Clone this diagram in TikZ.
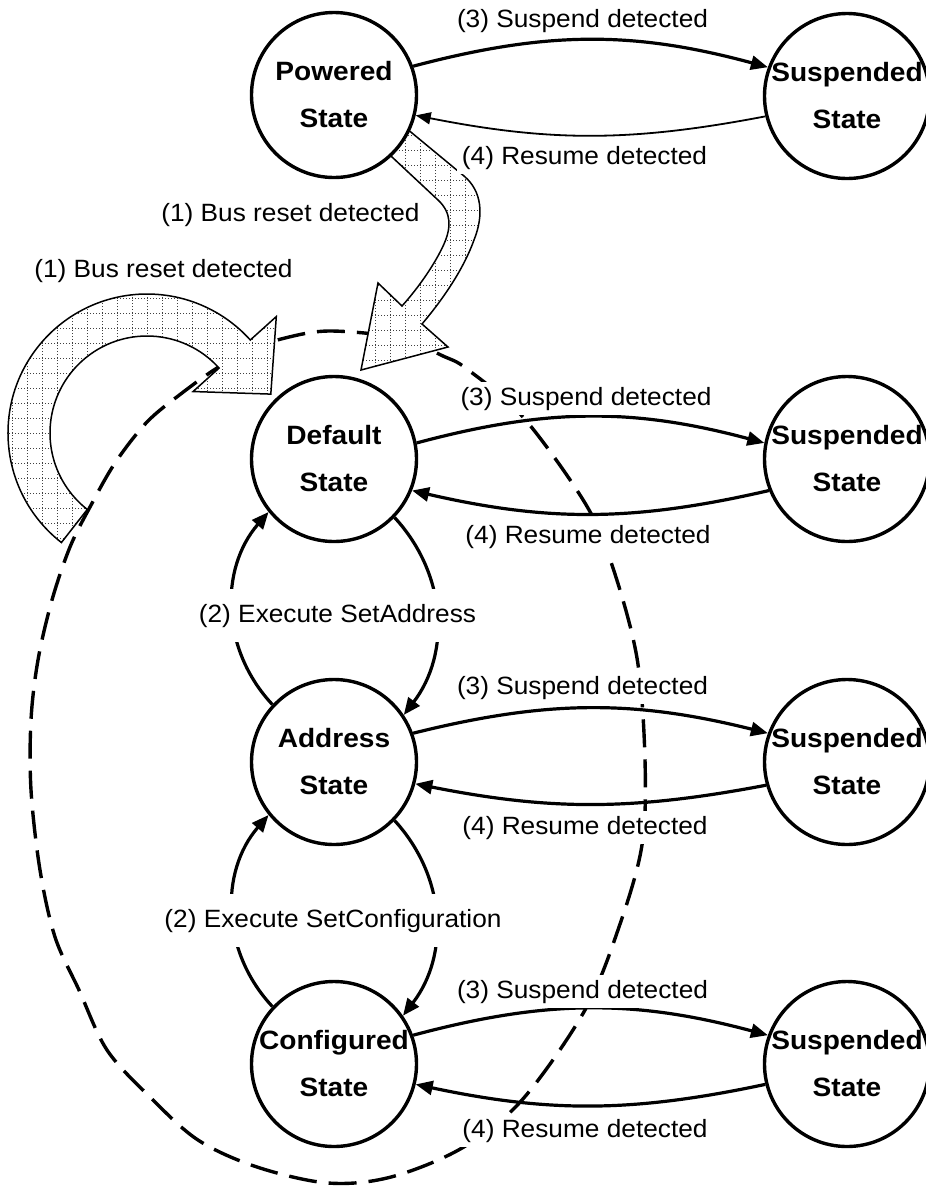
\documentclass[tikz,border=0pt]{standalone}
\usepackage{fontspec}
\setmainfont{Liberation Sans}
\newfontfamily\lblfont{Liberation Sans}[FakeStretch=1.05]
\newfontfamily\stfont{Liberation Sans}[FakeStretch=1.06]
\usetikzlibrary{arrows.meta}

% outline of the curved block arrow on the left (relative to its arc centre)
\newcommand\leftblock{(232:139) arc[start angle=232, end angle=42, radius=139]
  -- (42:174) -- (123.8,38.9) -- (42:62) -- (42:97)
  arc[start angle=42, end angle=232, radius=97] -- cycle}
% outline of the block arrow from the powered state down to the default state
\newcommand\topblock{(369,-138) -- (389,-114) -- (412,-133) -- (464,-176)
  .. controls (482,-191) and (484,-215) .. (474,-240)
  .. controls (464,-268) and (444,-298) .. (422,-324)
  -- (448,-347) -- (361,-370) -- (378,-283) -- (402,-306)
  .. controls (420,-286) and (436,-262) .. (444,-244)
  .. controls (451,-228) and (452,-213) .. (438,-200)
  -- (392,-157) -- cycle}

\tikzset{
  state/.style={circle, draw, line width=3.4pt, fill=white, minimum size=165pt,
    inner sep=0pt, align=center,
    font=\stfont\bfseries\fontsize{26.5}{47}\selectfont},
  lbl/.style={fill=white, inner sep=5pt, anchor=base,
    font=\lblfont\fontsize{25}{30}\selectfont},
  midlbl/.style={lbl, inner xsep=8pt, inner ysep=15pt},
  tr/.style={line width=3.2pt, -{Triangle[length=17pt,width=14pt]}},
  trthin/.style={line width=1.8pt, -{Triangle[length=15pt,width=12pt]}},
  resetpath/.style={line width=3.4pt, dash pattern=on 28pt off 12pt},
  hatchline/.style={line width=1pt, dash pattern=on 1pt off 2pt, black!75},
  blockedge/.style={line width=1.5pt}
}

\begin{document}
\begin{tikzpicture}[x=1pt, y=1pt]
  \useasboundingbox (0,0) rectangle (926,-1187);
  \fill[white] (0,0) rectangle (926,-1187);

  % dashed boundary around the default, address and configured states
  \draw[resetpath] plot[smooth cycle, tension=0.55] coordinates {
    (330,-331) (400,-338) (443,-356) (467,-369) (523,-417) (585,-503)
    (612,-565) (637,-658) (645,-760) (642,-845) (619,-927) (585,-1010)
    (522,-1100) (462,-1148) (391,-1177) (328,-1183) (257,-1167) (198,-1140)
    (150,-1097) (107,-1050) (79,-990) (55,-937) (40,-870) (31,-790)
    (31,-720) (38,-660) (52,-600) (70,-547) (90,-507) (115,-463)
    (147,-422) (182,-393) (217,-368) (250,-350) (285,-338)};

  % curved block arrow on the left
  \begin{scope}[shift={(147,-433)}]
    \fill[white] \leftblock;
    \begin{scope}
      \clip \leftblock;
      \draw[hatchline, step=15] (-150,-150) grid (180,150);
    \end{scope}
    \draw[blockedge] \leftblock;
  \end{scope}

  % block arrow from the powered state
  \fill[white] \topblock;
  \begin{scope}
    \clip \topblock;
    \draw[hatchline, step=15] (345,-390) grid (495,-105);
  \end{scope}
  \draw[blockedge] \topblock;

  % states
  \node[state] (P)  at (334,-95)   {Powered\\State};
  \node[state] (D)  at (334,-459)  {Default\\State};
  \node[state] (A)  at (334,-762)  {Address\\State};
  \node[state] (C)  at (334,-1064) {Configured\\State};
  \node[state] (SP) at (847,-96)   {Suspended\\State};
  \node[state] (SD) at (847,-459)  {Suspended\\State};
  \node[state] (SA) at (847,-762)  {Suspended\\State};
  \node[state] (SC) at (847,-1064) {Suspended\\State};

  % suspend / resume transitions
  \draw[tr]     (P.20)   to[bend left=15] (SP.160);
  \draw[trthin] (SP.194) to[bend left=11] (P.-14);
  \draw[tr]     (D.11)   to[bend left=15] (SD.169);
  \draw[tr]     (SD.202) to[bend left=13] (D.-22);
  \draw[tr]     (A.20)   to[bend left=14] (SA.160);
  \draw[tr]     (SA.196) to[bend left=11] (A.-15);
  \draw[tr]     (C.20)   to[bend left=15] (SC.160);
  \draw[tr]     (SC.194) to[bend left=12] (C.-14);

  % SetAddress / SetConfiguration transitions
  \draw[tr] (D.-44)  to[bend left=40] (A.34);
  \draw[tr] (A.137)  to[bend left=42] (D.219);
  \draw[tr] (A.-44)  to[bend left=40] (C.35);
  \draw[tr] (C.137)  to[bend left=42] (A.219);

  % transition labels
  \node[lbl] (r1a) at (290.5,-221) {(1) Bus reset detected};
  \node[lbl] (r1b) at (163.5,-277) {(1) Bus reset detected};
  \node[lbl] (s3p) at (582.5,-27)   {(3) Suspend detected};
  \node[lbl] (s4p) at (584.5,-164)  {(4) Resume detected};
  \node[lbl] (s3d) at (586,-405)    {(3) Suspend detected};
  \node[lbl] (s4d) at (588,-543)    {(4) Resume detected};
  \node[lbl] (s3a) at (582.5,-694)  {(3) Suspend detected};
  \node[lbl] (s4a) at (585,-834)    {(4) Resume detected};
  \node[lbl] (s3c) at (582.5,-998)  {(3) Suspend detected};
  \node[lbl] (s4c) at (585,-1137)   {(4) Resume detected};
  \node[midlbl] (x2a) at (337.5,-622) {(2) Execute SetAddress};
  \node[midlbl] (x2c) at (333,-927)   {(2) Execute SetConfiguration};
\end{tikzpicture}
\end{document}
